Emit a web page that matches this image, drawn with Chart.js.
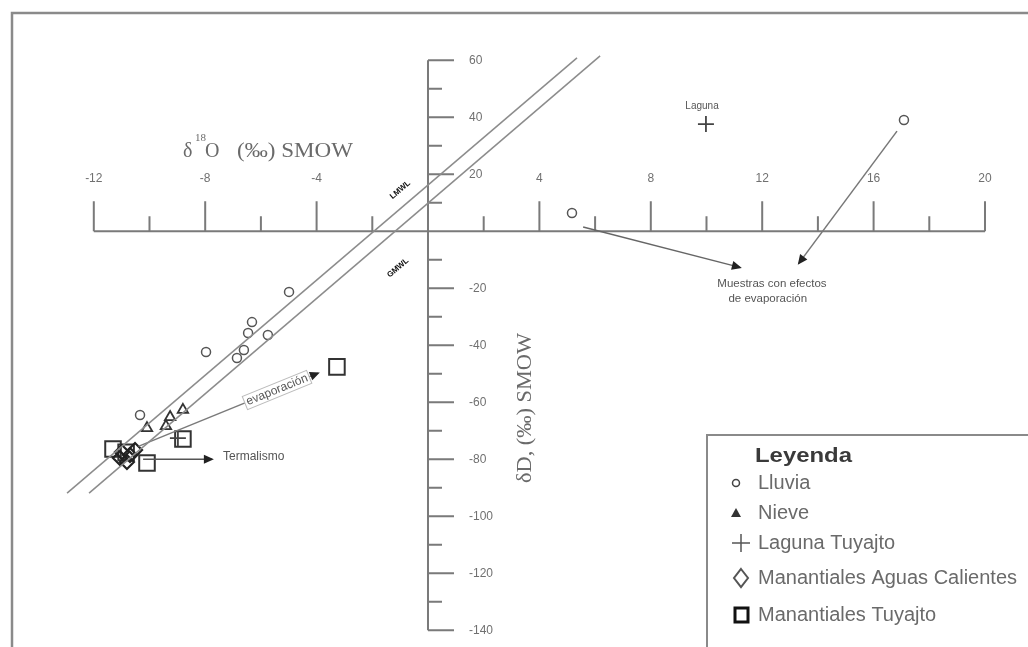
<!DOCTYPE html>
<html><head><meta charset="utf-8">
<script src="https://cdn.jsdelivr.net/npm/chart.js@4/dist/chart.umd.min.js"></script>
<style>html,body{margin:0;padding:0;background:#fff;overflow:hidden}#wrap{width:1028px;height:647px;position:relative}</style>
</head><body><div id="wrap"><canvas id="c"></canvas></div>
<script>
// ---- data (δ18O, δD) ----
const xTickLabels = [-12,-8,-4,4,8,12,16,20];
const yTickLabels = [60,40,20,-20,-40,-60,-80,-100,-120,-140];
const lluvia = [[5.17,6.4],[17.09,39.0],[-4.99,-21.3],[-6.32,-31.9],[-6.46,-35.7],[-5.75,-36.4],[-6.61,-41.7],[-6.86,-44.5],[-7.97,-42.4],[-10.34,-64.5]];
const nieve = [[-10.09,-69.1],[-9.41,-68.4],[-9.26,-65.2],[-8.80,-62.7]];
const lagunaTuyajto = [[9.98,37.6],[-8.98,-72.6]];
const aguasCalientes = [[-10.99,-77.5],[-10.70,-78.5],[-10.81,-81.0],[-10.52,-76.8],[-11.06,-79.6]];
const manantialesTuyajto = [[-3.27,-47.6],[-8.80,-72.9],[-11.31,-76.4],[-10.09,-81.3],[-10.84,-77.6]];
const lmwl = [[-12.96,-91.9],[5.35,60.8]];
const gmwl = [[-12.17,-91.9],[6.18,61.5]];
const arrowEvap = [[-10.4,-75.5],[-3.95,-49.8]];
const arrowTerm = [[-10.23,-80.0],[-7.76,-80.0]];
const arrowEvapA = [[5.57,1.5],[11.20,-12.7]];
const arrowEvapB = [[16.84,35.1],[13.32,-11.2]];

const pts = a => a.map(p => ({x:p[0], y:p[1]}));
const lineDs = (a, color, w) => ({data: pts(a), showLine:true, pointRadius:0, borderColor:color, borderWidth:w, fill:false});
const ptDs = (a, style, r, color, w) => ({data: pts(a), showLine:false, pointStyle:style, pointRadius:r, borderColor:color, backgroundColor:'rgba(0,0,0,0)', borderWidth:w});

const arrows = [arrowEvap, arrowTerm, arrowEvapA, arrowEvapB];

const deco = {
  id:'deco',
  beforeDatasetsDraw(chart){
    const ctx = chart.ctx, xs = chart.scales.x, ys = chart.scales.y;
    const X = v => xs.getPixelForValue(v), Y = v => ys.getPixelForValue(v);
    ctx.save();
    ctx.fillStyle = '#fff'; ctx.fillRect(0,0,1028,647);
    // outer frame
    ctx.strokeStyle = '#8a8a8a'; ctx.lineWidth = 2.5;
    ctx.beginPath(); ctx.moveTo(1032,13); ctx.lineTo(12,13); ctx.lineTo(12,652); ctx.stroke();
    // x axis
    ctx.strokeStyle = '#7a7a7a'; ctx.lineWidth = 2;
    ctx.beginPath(); ctx.moveTo(X(-12),Y(0)); ctx.lineTo(X(20),Y(0)); ctx.stroke();
    ctx.beginPath();
    for (let v=-12; v<=20; v+=2){ if (v===0) continue; const L = (v%4===0)?30:15;
      ctx.moveTo(X(v),Y(0)); ctx.lineTo(X(v),Y(0)-L); }
    ctx.stroke();
    // y axis
    ctx.beginPath(); ctx.moveTo(X(0),Y(60)); ctx.lineTo(X(0),Y(-140)); ctx.stroke();
    ctx.beginPath();
    for (let v=-140; v<=60; v+=10){ if (v===0) continue; const L = (v%20===0)?26:14;
      ctx.moveTo(X(0),Y(v)); ctx.lineTo(X(0)+L,Y(v)); }
    ctx.stroke();
    // tick labels
    ctx.fillStyle = '#707070'; ctx.font = '12px "Liberation Sans", Arial, sans-serif';
    ctx.textAlign = 'center'; ctx.textBaseline = 'middle';
    xTickLabels.forEach(v => ctx.fillText(String(v), X(v), Y(0)-53));
    ctx.textAlign = 'left';
    yTickLabels.forEach(v => ctx.fillText(String(v), X(0)+41, Y(v)));
    // x title δ18O (‰) SMOW
    ctx.fillStyle = '#6a6a6a';
    ctx.textAlign = 'left'; ctx.textBaseline = 'alphabetic';
    ctx.font = '20px "Liberation Serif", "DejaVu Serif", serif';
    ctx.fillText('δ', 183, 157);
    ctx.font = '11px "Liberation Serif", serif';
    ctx.fillText('18', 195, 141);
    ctx.font = '20px "Liberation Serif", "DejaVu Serif", serif';
    ctx.fillText('O', 205, 157);
    ctx.save(); ctx.translate(237,157);
    const t1 = '(‰) SMOW'; const w1 = ctx.measureText(t1).width; ctx.scale(116/w1,1);
    ctx.fillText(t1, 0, 0); ctx.restore();
    // y title
    ctx.save(); ctx.translate(531, 408); ctx.rotate(-Math.PI/2);
    ctx.textAlign = 'center';
    const t2 = 'δD, (‰) SMOW'; const w2 = ctx.measureText(t2).width; ctx.scale(150/w2,1);
    ctx.fillText(t2, 0, 0); ctx.restore();
    ctx.restore();
  },
  afterDatasetsDraw(chart){
    const ctx = chart.ctx, xs = chart.scales.x, ys = chart.scales.y;
    const X = v => xs.getPixelForValue(v), Y = v => ys.getPixelForValue(v);
    ctx.save();
    // arrowheads
    ctx.fillStyle = '#222';
    arrows.forEach(a => {
      const x1 = X(a[0][0]), y1 = Y(a[0][1]), x2 = X(a[1][0]), y2 = Y(a[1][1]);
      const ang = Math.atan2(y2-y1, x2-x1);
      ctx.save(); ctx.translate(x2,y2); ctx.rotate(ang);
      ctx.beginPath(); ctx.moveTo(2,0); ctx.lineTo(-8,-4.5); ctx.lineTo(-8,4.5); ctx.closePath(); ctx.fill();
      ctx.restore();
    });
    // line labels
    const lineAng = Math.atan2(Y(lmwl[1][1])-Y(lmwl[0][1]), X(lmwl[1][0])-X(lmwl[0][0]));
    ctx.fillStyle = '#111'; ctx.font = 'bold 8px "Liberation Sans", Arial, sans-serif';
    ctx.textAlign = 'center'; ctx.textBaseline = 'middle';
    [[ 'LMWL', -1.0, 14.5],['GMWL', -1.08, -12.9]].forEach(l => {
      ctx.save(); ctx.translate(X(l[1]), Y(l[2])); ctx.rotate(lineAng); ctx.fillText(l[0],0,0); ctx.restore();
    });
    // evaporación label along arrow
    const ea = Math.atan2(Y(arrowEvap[1][1])-Y(arrowEvap[0][1]), X(arrowEvap[1][0])-X(arrowEvap[0][0]));
    ctx.save(); ctx.translate(X(-5.42), Y(-55.7)); ctx.rotate(ea);
    ctx.font = '12px "Liberation Sans", Arial, sans-serif';
    const ew = ctx.measureText('evaporación').width;
    ctx.fillStyle = '#fff'; ctx.fillRect(-ew/2-2,-7,ew+4,14);
    ctx.strokeStyle = '#bbb'; ctx.lineWidth = 1; ctx.strokeRect(-ew/2-2,-7,ew+4,14);
    ctx.fillStyle = '#555'; ctx.fillText('evaporación',0,0); ctx.restore();
    // other annotations
    ctx.fillStyle = '#555'; ctx.textBaseline = 'middle';
    ctx.font = '12px "Liberation Sans", Arial, sans-serif'; ctx.textAlign = 'left';
    ctx.fillText('Termalismo', X(-7.36), Y(-79.2));
    ctx.textAlign = 'center';
    ctx.font = '11.5px "Liberation Sans", Arial, sans-serif';
    ctx.fillText('Muestras con efectos', X(12.35), Y(-18.6));
    ctx.fillText('de evaporación', X(12.2), Y(-23.6));
    ctx.font = '10px "Liberation Sans", Arial, sans-serif';
    ctx.fillText('Laguna', X(9.84), Y(43.9));
    // legend
    ctx.strokeStyle = '#8a8a8a'; ctx.lineWidth = 2;
    ctx.beginPath(); ctx.moveTo(1032,435); ctx.lineTo(707,435); ctx.lineTo(707,652); ctx.stroke();
    ctx.textAlign = 'left'; ctx.textBaseline = 'middle';
    ctx.fillStyle = '#3a3a3a'; ctx.font = 'bold 21px "Liberation Sans", Arial, sans-serif';
    ctx.save(); ctx.translate(755,456); const lw = ctx.measureText('Leyenda').width; ctx.scale(97/lw,1); ctx.fillText('Leyenda',0,0); ctx.restore();
    ctx.fillStyle = '#6a6a6a'; ctx.font = '20px "Liberation Sans", Arial, sans-serif';
    const items = [['Lluvia',483],['Nieve',513],['Laguna Tuyajto',543],['Manantiales Aguas Calientes',578],['Manantiales Tuyajto',615]];
    items.forEach(it => ctx.fillText(it[0], 758, it[1]));
    // legend symbols
    ctx.strokeStyle = '#444'; ctx.lineWidth = 1.5;
    ctx.beginPath(); ctx.arc(736,483,3.5,0,Math.PI*2); ctx.stroke();
    ctx.fillStyle = '#333';
    ctx.beginPath(); ctx.moveTo(736,508); ctx.lineTo(741,517); ctx.lineTo(731,517); ctx.closePath(); ctx.fill();
    ctx.strokeStyle = '#555'; ctx.lineWidth = 1.5;
    ctx.beginPath(); ctx.moveTo(732,543); ctx.lineTo(750,543); ctx.moveTo(741,534); ctx.lineTo(741,552); ctx.stroke();
    ctx.lineWidth = 2;
    ctx.beginPath(); ctx.moveTo(741,569); ctx.lineTo(748,578); ctx.lineTo(741,587); ctx.lineTo(734,578); ctx.closePath(); ctx.stroke();
    ctx.strokeStyle = '#111'; ctx.lineWidth = 3;
    ctx.strokeRect(735,608,13,14);
    ctx.restore();
  }
};

new Chart(document.getElementById('c'), {
  type: 'scatter',
  data: { datasets: [
    lineDs(lmwl, '#8c8c8c', 1.5),
    lineDs(gmwl, '#8c8c8c', 1.5),
    lineDs(arrowEvap, '#7a7a7a', 1.5),
    lineDs(arrowTerm, '#555', 1.5),
    lineDs(arrowEvapA, '#666', 1.5),
    lineDs(arrowEvapB, '#777', 1.5),
    ptDs(lluvia, 'circle', 4.5, '#555', 1.5),
    ptDs(nieve, 'triangle', 6, '#333', 1.8),
    ptDs(lagunaTuyajto, 'cross', 8, '#444', 1.8),
    ptDs(aguasCalientes, 'rectRot', 7, '#222', 2.2),
    ptDs(manantialesTuyajto, 'rect', 11, '#333', 2)
  ]},
  options: {
    responsive: true, maintainAspectRatio: false, animation: false,
    layout: { padding: 0, autoPadding: false },
    events: [],
    plugins: { legend: {display:false}, tooltip: {enabled:false} },
    scales: {
      x: { type:'linear', min:-15.368, max:21.544, display:false },
      y: { type:'linear', min:-145.89, max:81.12, display:false }
    }
  },
  plugins: [deco]
});
</script></body></html>
